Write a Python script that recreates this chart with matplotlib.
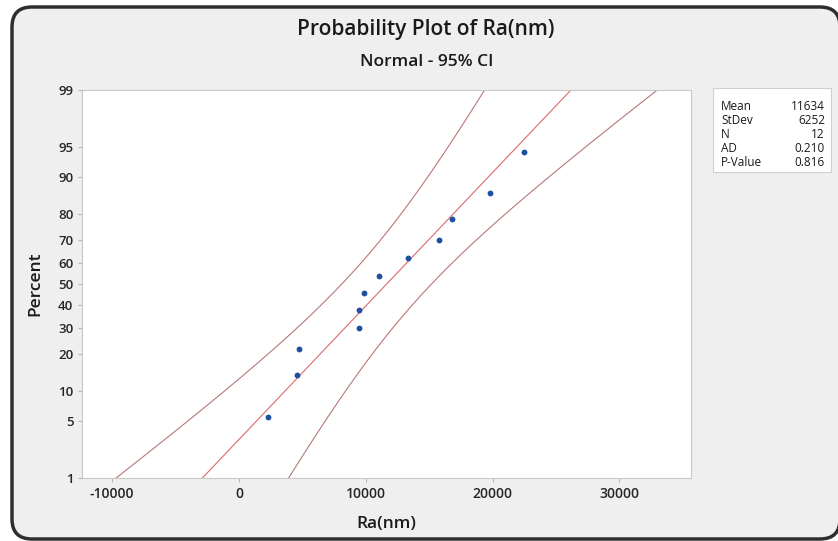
import statistics

import matplotlib
matplotlib.use("Agg")
import matplotlib.pyplot as plt
import numpy as np
from matplotlib.patches import FancyBboxPatch, Rectangle
from matplotlib.transforms import IdentityTransform

ra_nm = [2310, 4550, 4710, 9460, 9490, 9830, 11040, 13330, 15750, 16820, 19820, 22450]
# plotted percent for each observation (median ranks)
percent = [5.6, 13.7, 21.8, 29.8, 37.9, 46.0, 54.0, 62.1, 70.2, 78.2, 86.3, 94.4]

stat_names = ["Mean", "StDev", "N", "AD", "P-Value"]
stat_values = ["11634", "6252", "12", "0.210", "0.816"]
mean_ra = 11634
sd_ra = 6252
n_obs = 12

x_ticks = [-10000, 0, 10000, 20000, 30000]
y_ticks = [1, 5, 10, 20, 30, 40, 50, 60, 70, 80, 90, 95, 99]

W, H = 838, 541

plt.rcParams["font.family"] = ["Open Sans", "DejaVu Sans"]

nd = statistics.NormalDist()
pct_to_z = np.vectorize(lambda p: nd.inv_cdf(min(max(p / 100.0, 1e-9), 1 - 1e-9)), otypes=[float])
z_to_pct = np.vectorize(lambda z: 100.0 * nd.cdf(z), otypes=[float])


def fx(px):
    return px / W


def fy(py):
    return 1 - py / H


fig = plt.figure(figsize=(W / 100, H / 100), dpi=100, facecolor="white")

# rounded grey panel behind everything
panel = FancyBboxPatch((12, H - 539), 840 - 12, 539 - 7,
                       boxstyle="round,pad=0,rounding_size=20",
                       transform=IdentityTransform(), facecolor="#efefef",
                       edgecolor="#2e2e2e", linewidth=2.5, zorder=-1)
fig.add_artist(panel)

ax = fig.add_axes([fx(81.7), fy(478.3), fx(691) - fx(81.7), fy(90) - fy(478.3)])
ax.set_facecolor("white")
ax.set_yscale("function", functions=(pct_to_z, z_to_pct))

# fitted line and 95% confidence band
z = np.linspace(nd.inv_cdf(0.01), nd.inv_cdf(0.99), 300)
fit_x = mean_ra + z * sd_ra
half = 1.96 * sd_ra * np.sqrt(1 / n_obs + z ** 2 / (2 * n_obs))
pct_line = z_to_pct(z)
ax.plot(fit_x, pct_line, color="#dc6b6b", lw=0.8)
ax.plot(fit_x - half, pct_line, color="#b87878", lw=0.8)
ax.plot(fit_x + half, pct_line, color="#b87878", lw=0.8)

ax.plot(ra_nm, percent, "o", ms=4.2, color="#1f4fa0", mec="none", zorder=3)

ax.set_xlim(-12405, 35647)
ax.set_ylim(1, 99)
ax.set_xticks(x_ticks)
ax.set_xticklabels([str(t) for t in x_ticks], fontweight="semibold")
ax.set_yticks(y_ticks)
ax.set_yticklabels([str(t) for t in y_ticks], fontweight="semibold")
ax.minorticks_off()
ax.tick_params(axis="both", direction="out", length=3, width=0.8, color="#b5b5b5",
               labelcolor="#262626", pad=3)
ax.tick_params(axis="x", labelsize=10)
ax.tick_params(axis="y", labelsize=9.5)
for sp in ax.spines.values():
    sp.set_color("#c8c8c8")
    sp.set_linewidth(0.8)

fig.text(fx(426), fy(30), "Probability Plot of Ra(nm)", ha="center", va="center",
         fontsize=15, fontweight="semibold", color="#1a1a1a")
fig.text(fx(427), fy(61.7), "Normal - 95% CI", ha="center", va="center",
         fontsize=12.5, fontweight="semibold", color="#1a1a1a")
fig.text(fx(35.5), fy(284), "Percent", ha="center", va="center", rotation=90,
         fontsize=12.5, fontweight="semibold", color="#1a1a1a")
fig.text(fx(386), fy(524), "Ra(nm)", ha="center", va="center",
         fontsize=12.5, fontweight="semibold", color="#1a1a1a")

# statistics box
box = Rectangle((fx(713), fy(172)), fx(831) - fx(713), fy(88) - fy(172),
                transform=fig.transFigure, facecolor="white", edgecolor="#d0d0d0", lw=0.8)
fig.add_artist(box)
for i, (name, val) in enumerate(zip(stat_names, stat_values)):
    yy = fy(106 + i * 14.2)
    fig.text(fx(721), yy, name, ha="left", va="center", fontsize=8.5, color="#1a1a1a")
    fig.text(fx(825), yy, val, ha="right", va="center", fontsize=8.5, color="#1a1a1a")

fig.savefig("out.png", dpi=100, facecolor="white")
